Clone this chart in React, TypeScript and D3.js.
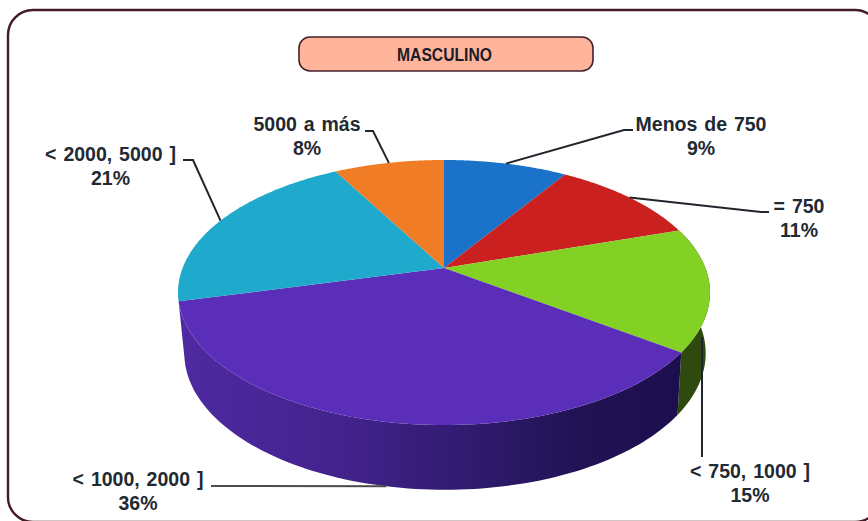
import React from "react";
import * as d3 from "d3";

const W = 868;
const H = 521;

// Income brackets, clockwise from twelve o'clock
const categories = ["Menos de 750", "= 750", "< 750, 1000 ]", "< 1000, 2000 ]", "< 2000, 5000 ]", "5000 a más"];
const shares = [9, 11, 15, 36, 21, 8];
const topColors = ["#1a73c9", "#cb2020", "#84d126", "#5a2eb8", "#1ea9cd", "#f07d25"];
const chartTitle = "MASCULINO";

// Label placement per slice: text centre, leader elbow, and the rim the leader lands on
const labelX = [701, 799, 750, 138, 110.5, 307];
const labelY = [131, 213, 478, 486, 161, 131];
const elbowStart = [[633, 130], [769, 212], [702, 457], [211, 486], [183, 160], [365, 131]];
const elbowMid = [[624, 130], [761, 212], null, null, [193, 160], [373, 131]];
const landsOnBase = [false, false, true, true, false, false];

// Perspective projection of the pie's plan circle onto the page
const apexX = 444;
const apexY = 268;
const radiusX = 261.4;
const radiusY = 128;
const tilt = 0.185;
const baseCenterX = 445;
const baseScaleX = 0.98;
const baseScaleY = 1.03;
const baseDrop = 60;

const topPoint = (a: number): [number, number] => {
  const u = Math.sin(a);
  const v = -Math.cos(a);
  const w = 1 - tilt * v;
  return [apexX + (radiusX * u) / w, apexY + (radiusY * v) / w];
};
const basePoint = (a: number): [number, number] => {
  const [x, y] = topPoint(a);
  return [baseCenterX + baseScaleX * (x - apexX), apexY + baseDrop + baseScaleY * (y - apexY)];
};

const pieLayout = d3.pie<number>().sort(null).startAngle(0).endAngle(2 * Math.PI);
const arcs = pieLayout(shares);
const line = d3.line();

const sweep = (a0: number, a1: number, fn: (a: number) => [number, number]) => {
  const scale = d3.scaleLinear().domain([0, 96]).range([a0, a1]);
  return d3.range(97).map((i) => fn(scale(i)));
};

const ink = "#1f2a33";
const font = "'Liberation Sans', Arial, sans-serif";

export default function App() {
  return (
    <svg
      width={W}
      height={H}
      viewBox={`0 0 ${W} ${H}`}
      style={{ position: "fixed", left: 0, top: 0, background: "#fff" }}
    >
      <defs>
        <linearGradient id="wallPurple" gradientUnits="userSpaceOnUse" x1={180} x2={680} y1={0} y2={0}>
          <stop offset="0" stopColor="#4f2aa2" />
          <stop offset="0.35" stopColor="#41228a" />
          <stop offset="0.6" stopColor="#2e1a6c" />
          <stop offset="0.8" stopColor="#211254" />
          <stop offset="1" stopColor="#1d0f4e" />
        </linearGradient>
      </defs>

      <rect x={8} y={10} width={872} height={512} rx={25} fill="#fff" stroke="#431c25" strokeWidth={2.4} />
      <rect x={299} y={37} width={294} height={34} rx={11} fill="#ffb59c" stroke="#45202a" strokeWidth={1.6} />
      <text
        x={444.5}
        y={61}
        textAnchor="middle"
        fontFamily={font}
        fontWeight={700}
        fontSize={18}
        textLength={95}
        lengthAdjust="spacingAndGlyphs"
        fill="#1d1d28"
      >
        {chartTitle}
      </text>

      {arcs.map((d, i) => {
        const mid = (d.startAngle + d.endAngle) / 2;
        if (Math.cos(mid) > 0) return null;
        const rim = [...sweep(d.startAngle, d.endAngle, topPoint), ...sweep(d.endAngle, d.startAngle, basePoint)];
        return (
          <path
            key={categories[i]}
            d={line(rim) + "Z"}
            fill={i === 3 ? "url(#wallPurple)" : d3.color(topColors[i])!.darker(2.9).formatHex()}
          />
        );
      })}

      {arcs.map((d, i) => {
        const outline: [number, number][] = [[apexX, apexY], ...sweep(d.startAngle, d.endAngle, topPoint)];
        return <path key={categories[i]} d={line(outline) + "Z"} fill={topColors[i]} />;
      })}

      {arcs.map((d, i) => {
        const mid = (d.startAngle + d.endAngle) / 2;
        const anchor = landsOnBase[i] ? basePoint(mid) : topPoint(mid);
        const end: [number, number] = i === 2 ? [elbowStart[i][0], anchor[1] - 12] : anchor;
        const pts = [elbowStart[i], elbowMid[i], end].filter(Boolean) as [number, number][];
        return <path key={categories[i]} d={line(pts)!} fill="none" stroke={i === 3 ? "#4b4b4b" : "#20262c"} strokeWidth={2} />;
      })}

      {categories.map((c, i) => (
        <text
          key={c}
          textAnchor="middle"
          fontFamily={font}
          fontWeight={700}
          fontSize={19.5}
          fill={ink}
          wordSpacing={1.5}
        >
          <tspan x={labelX[i]} y={labelY[i]}>{c}</tspan>
          <tspan x={labelX[i]} y={labelY[i] + 24}>{shares[i]}%</tspan>
        </text>
      ))}
    </svg>
  );
}
